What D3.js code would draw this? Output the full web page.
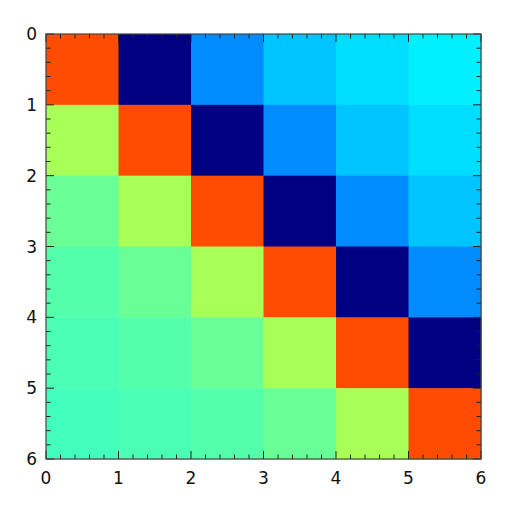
<!DOCTYPE html>
<html>
<head>
<meta charset="utf-8">
<script src="https://cdn.jsdelivr.net/npm/d3@7"></script>
<style>
  body { margin: 0; background: #fff; }
  text { font-family: "DejaVu Sans", sans-serif; font-size: 17px; fill: #111; }
</style>
</head>
<body>
<svg id="chart" width="512" height="512"></svg>
<script>
// cell values, row by row (0..1 on the jet colormap)
var row0 = [0.80, 0.00, 0.2625, 0.3175, 0.3425, 0.36];
var row1 = [0.54, 0.80, 0.00, 0.2625, 0.3175, 0.3425];
var row2 = [0.478, 0.54, 0.80, 0.00, 0.2625, 0.3175];
var row3 = [0.4575, 0.478, 0.54, 0.80, 0.00, 0.2625];
var row4 = [0.4475, 0.4575, 0.478, 0.54, 0.80, 0.00];
var row5 = [0.44, 0.4475, 0.4575, 0.478, 0.54, 0.80];
var rows = [row0, row1, row2, row3, row4, row5];
var tickVals = [0, 1, 2, 3, 4, 5, 6];

var pLeft = 46, pRight = 481, pTop = 34, pBottom = 459;

var x = d3.scaleLinear().domain([0, 6]).range([pLeft, pRight]);
var y = d3.scaleLinear().domain([0, 6]).range([pTop, pBottom]);

// jet colormap, eighth steps
var jr = d3.scaleLinear().domain([0, 0.375, 0.625, 0.875, 1]).range([0, 0, 1, 1, 0.5]).clamp(true);
var jg = d3.scaleLinear().domain([0, 0.125, 0.375, 0.625, 0.875, 1]).range([0, 0, 1, 1, 0, 0]).clamp(true);
var jb = d3.scaleLinear().domain([0, 0.125, 0.375, 0.625, 1]).range([0.5, 1, 1, 0, 0]).clamp(true);
function jet(v) {
    return d3.rgb(jr(v) * 255, jg(v) * 255, jb(v) * 255).toString();
}

var svg = d3.select("#chart");

var cells = [];
rows.forEach(function(r, i) {
    r.forEach(function(v, j) { cells.push({row: i, col: j, v: v}); });
});

svg.append("g").selectAll("rect")
    .data(cells)
  .enter().append("rect")
    .attr("x", function(d) { return x(d.col); })
    .attr("y", function(d) { return y(d.row); })
    .attr("width", x(1) - x(0) + 0.5)
    .attr("height", y(1) - y(0) + 0.5)
    .attr("fill", function(d) { return jet(d.v); });

// ticks, all pointing inward
var minor = d3.range(0, 30).map(function(i) { return i / 5; }).filter(function(v) { return v % 1 !== 0; });
var tk = svg.append("g").attr("stroke", "#222").attr("stroke-width", 1);
function ticks(vals, len) {
    vals.forEach(function(v) {
        tk.append("line").attr("x1", x(v)).attr("x2", x(v)).attr("y1", pTop).attr("y2", pTop + len);
        tk.append("line").attr("x1", x(v)).attr("x2", x(v)).attr("y1", pBottom).attr("y2", pBottom - len);
        tk.append("line").attr("y1", y(v)).attr("y2", y(v)).attr("x1", pLeft).attr("x2", pLeft + len);
        tk.append("line").attr("y1", y(v)).attr("y2", y(v)).attr("x1", pRight).attr("x2", pRight - len);
    });
}
ticks(tickVals, 8);
ticks(minor, 4.5);

svg.append("rect")
    .attr("x", pLeft).attr("y", pTop)
    .attr("width", pRight - pLeft).attr("height", pBottom - pTop)
    .attr("fill", "none").attr("stroke", "#444").attr("stroke-width", 1.2);

svg.append("g").selectAll("text")
    .data(tickVals)
  .enter().append("text")
    .attr("x", function(d) { return x(d); })
    .attr("y", 484)
    .attr("text-anchor", "middle")
    .text(function(d) { return d; });

svg.append("g").selectAll("text")
    .data(tickVals)
  .enter().append("text")
    .attr("x", 37)
    .attr("y", function(d) { return y(d); })
    .attr("dy", "0.36em")
    .attr("text-anchor", "end")
    .text(function(d) { return d; });
</script>
</body>
</html>
